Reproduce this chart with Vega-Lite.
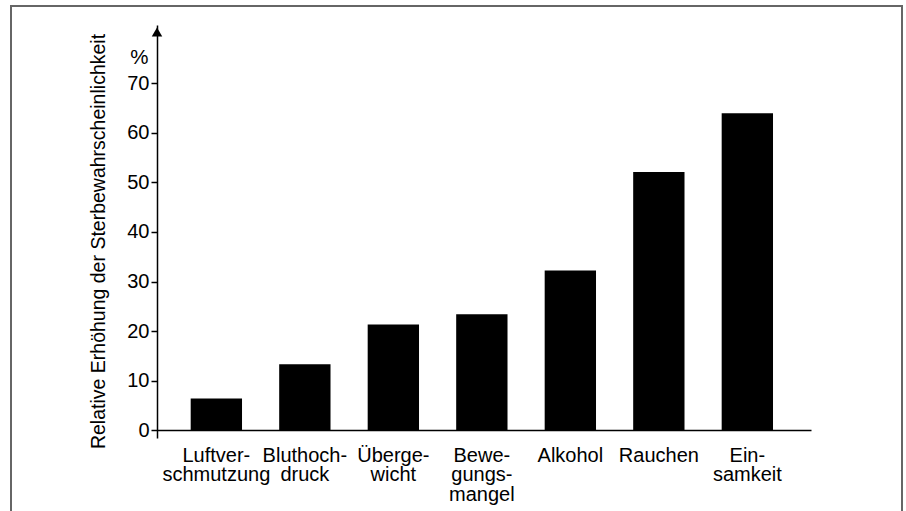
{
  "$schema": "https://vega.github.io/schema/vega-lite/v6.json",
  "width": 654,
  "height": 413,
  "autosize": {"type": "none"},
  "padding": {"left": 157, "top": 25, "right": 95, "bottom": 73},
  "background": "white",
  "config": {"view": {"stroke": null}, "font": "Liberation Sans"},
  "resolve": {"axis": {"y": "independent"}},
  "layer": [
    {
      "data": {"values": [
        {"Risikofaktor": "Luftver-\nschmutzung", "Erhoehung": 6.4},
        {"Risikofaktor": "Bluthoch-\ndruck", "Erhoehung": 13.3},
        {"Risikofaktor": "Überge-\nwicht", "Erhoehung": 21.3},
        {"Risikofaktor": "Bewe-\ngungs-\nmangel", "Erhoehung": 23.4},
        {"Risikofaktor": "Alkohol", "Erhoehung": 32.2},
        {"Risikofaktor": "Rauchen", "Erhoehung": 52.1},
        {"Risikofaktor": "Ein-\nsamkeit", "Erhoehung": 64.0}
      ]},
      "mark": {"type": "bar", "color": "black"},
      "encoding": {
        "x": {
          "field": "Risikofaktor", "type": "nominal", "sort": null,
          "scale": {"paddingInner": 0.42, "paddingOuter": 0.405, "align": 0.47},
          "axis": {
            "title": null, "offset": -8, "ticks": false, "domainColor": "black", "domainWidth": 1.5,
            "labelAngle": 0, "labelFontSize": 20, "labelColor": "black", "labelBaseline": "top",
            "labelPadding": 15, "labelLineHeight": 19.5, "labelFont": "Liberation Sans", "labelOverlap": false,
            "labelExpr": "split(datum.value, '\\n')"
          }
        },
        "y": {
          "field": "Erhoehung", "type": "quantitative",
          "scale": {"domain": [-1.6, 81.8], "nice": false, "zero": false},
          "axis": {
            "orient": "left",
            "values": [0, 10, 20, 30, 40, 50, 60, 70], "grid": false,
            "domainColor": "black", "domainWidth": 1.5, "tickColor": "black", "tickWidth": 1.5, "tickSize": 6,
            "labelFontSize": 20, "labelColor": "black", "labelPadding": 2, "labelFont": "Liberation Sans",
            "title": "%", "titleFontSize": 20.5, "titleFontWeight": "normal",
            "titleColor": "black", "titleFont": "Liberation Sans", "titleAngle": 0, "titleAlign": "right",
            "titleBaseline": "alphabetic", "titleX": -9, "titleY": 38
          }
        },
        "y2": {"datum": 0}
      }
    },
    {
      "data": {"values": [{"element": "arrow"}]},
      "mark": {"type": "point", "shape": "triangle-up", "filled": true, "color": "black", "size": 110, "opacity": 1},
      "encoding": {
        "x": {"value": 0},
        "y": {
          "datum": 80.4, "type": "quantitative",
          "axis": {
            "orient": "left", "labels": false, "ticks": false, "domain": false, "grid": false,
            "title": "Relative Erhöhung der Sterbewahrscheinlichkeit", "titleFontSize": 19.5, "titleFontWeight": "normal",
            "titleColor": "black", "titleFont": "Liberation Sans", "titleAngle": 270, "titleAlign": "center",
            "titleBaseline": "alphabetic", "titleX": -53, "titleY": 216
          }
        }
      }
    },
    {
      "data": {"values": [{"element": "frame"}]},
      "mark": {"type": "rect", "filled": false, "stroke": "#666666", "strokeWidth": 2, "fill": null},
      "encoding": {
        "x": {"value": -146},
        "x2": {"value": 745},
        "y": {"value": -19},
        "y2": {"value": 520}
      }
    }
  ]
}
